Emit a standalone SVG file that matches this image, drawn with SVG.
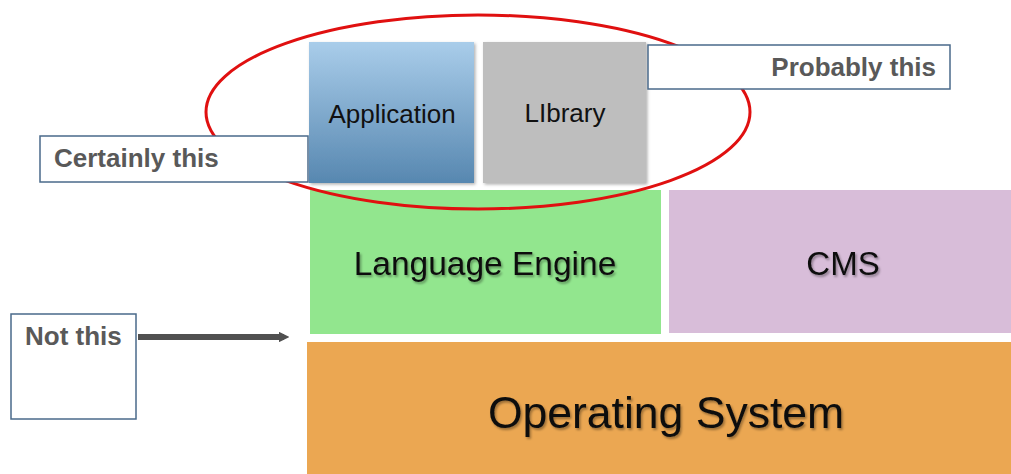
<svg xmlns="http://www.w3.org/2000/svg" width="1011" height="474" viewBox="0 0 1011 474">
<defs>
<linearGradient id="appGrad" x1="0" y1="0" x2="0" y2="1">
<stop offset="0" stop-color="#a9cdea"/>
<stop offset="1" stop-color="#5787b0"/>
</linearGradient>
<filter id="boxShadow" x="-5%" y="-5%" width="115%" height="115%">
<feDropShadow dx="1.5" dy="1.5" stdDeviation="1.5" flood-color="#000" flood-opacity="0.3"/>
</filter>
<filter id="textShadow" x="-5%" y="-20%" width="115%" height="150%">
<feDropShadow dx="1.5" dy="2" stdDeviation="1.2" flood-color="#000" flood-opacity="0.35"/>
</filter>
<marker id="arrowHead" viewBox="0 0 10 10" refX="5" refY="5" markerWidth="1.8" markerHeight="1.8" orient="auto" markerUnits="strokeWidth">
<path d="M0,0 L10,5 L0,10 z" fill="#505050"/>
</marker>
</defs>
<style>
.block{font-family:"Liberation Sans",Arial,sans-serif;fill:#111;text-anchor:middle}
.label{font-family:"Liberation Sans",Arial,sans-serif;font-weight:bold;fill:#595959;font-size:26px}
.lbox{fill:#fff;stroke:#4a6a8a;stroke-width:1.5}
</style>
<rect width="1011" height="474" fill="#fff"/>
<g id="os">
<rect x="307" y="342" width="704" height="132" fill="#eba752"/>
<text class="block" x="666" y="428" font-size="44.5" filter="url(#textShadow)">Operating System</text>
</g>
<g id="language-engine">
<rect x="310" y="190" width="351" height="144" fill="#92e68e"/>
<text class="block" x="485" y="275" font-size="33.5" filter="url(#textShadow)">Language Engine</text>
</g>
<g id="cms">
<rect x="669" y="190" width="342" height="143" fill="#d8bdd9"/>
<text class="block" x="843" y="275" font-size="33" filter="url(#textShadow)">CMS</text>
</g>
<g id="application">
<rect x="309" y="42" width="165" height="141" fill="url(#appGrad)" filter="url(#boxShadow)"/>
<text class="block" x="392" y="123" font-size="26">Application</text>
</g>
<g id="library">
<rect x="483" y="42" width="163" height="141" fill="#bebebe" filter="url(#boxShadow)"/>
<text class="block" x="565" y="122" font-size="26">LIbrary</text>
</g>
<g id="ellipse">
<ellipse cx="478" cy="112" rx="272" ry="97" fill="none" stroke="#e01010" stroke-width="3"/>
</g>
<g id="certainly-this">
<rect class="lbox" x="40" y="136" width="268" height="46"/>
<text class="label" x="54" y="167">Certainly this</text>
</g>
<g id="probably-this">
<rect class="lbox" x="648" y="45" width="302" height="44"/>
<text class="label" x="936" y="76" text-anchor="end">Probably this</text>
</g>
<g id="not-this">
<rect class="lbox" x="11" y="314" width="125" height="105"/>
<text class="label" x="25" y="345">Not this</text>
</g>
<g id="connectors">
<line x1="138" y1="337" x2="284" y2="337" stroke="#505050" stroke-width="6" marker-end="url(#arrowHead)"/>
</g>
</svg>
